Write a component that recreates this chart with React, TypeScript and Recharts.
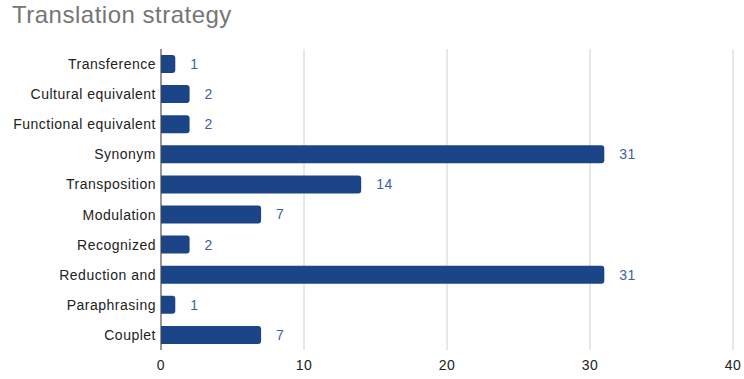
import React from "react";
import { BarChart, Bar, XAxis, YAxis, CartesianGrid, LabelList } from "recharts";

const categories = [
  "Transference",
  "Cultural equivalent",
  "Functional equivalent",
  "Synonym",
  "Transposition",
  "Modulation",
  "Recognized",
  "Reduction and",
  "Paraphrasing",
  "Couplet",
];
const counts = [1, 2, 2, 31, 14, 7, 2, 31, 1, 7];
const xTicks = [0, 10, 20, 30, 40];

const data = categories.map((c, i) => ({ name: c, value: counts[i] }));

export default function App() {
  return (
    <div style={{ position: "absolute", left: 0, top: 0, width: 744, height: 379, background: "#fff", fontFamily: "Liberation Sans, Arial, sans-serif" }}>
      <div style={{ position: "absolute", left: 12, top: 1, fontSize: 24, letterSpacing: 0.5, color: "#757575", whiteSpace: "nowrap" }}>
        Translation strategy
      </div>
      <BarChart
        width={744}
        height={379}
        data={data}
        layout="vertical"
        margin={{ top: 49, right: 11, bottom: 4, left: 0 }}
        barCategoryGap="20%"
      >
        <CartesianGrid horizontal={false} vertical={true} stroke="#d0d0d0" strokeWidth={1} />
        <XAxis
          type="number"
          domain={[0, 40]}
          ticks={xTicks}
          axisLine={false}
          tickLine={false}
          tickSize={0}
          tickMargin={10}
          height={25}
          tick={{ fontSize: 14, fill: "#222", letterSpacing: 0.5 }}
        />
        <YAxis
          type="category"
          dataKey="name"
          width={161}
          axisLine={{ stroke: "#444" }}
          tickLine={false}
          tickSize={0}
          tickMargin={5}
          interval={0}
          tick={{ fontSize: 14, fill: "#222", letterSpacing: 0.5 }}
        />
        <Bar dataKey="value" fill="#1c4587" radius={[0, 3, 3, 0]} isAnimationActive={false}>
          <LabelList dataKey="value" position="right" offset={15} style={{ fontSize: 14, fill: "#3d5fa0", letterSpacing: 0.5 }} />
        </Bar>
      </BarChart>
    </div>
  );
}
